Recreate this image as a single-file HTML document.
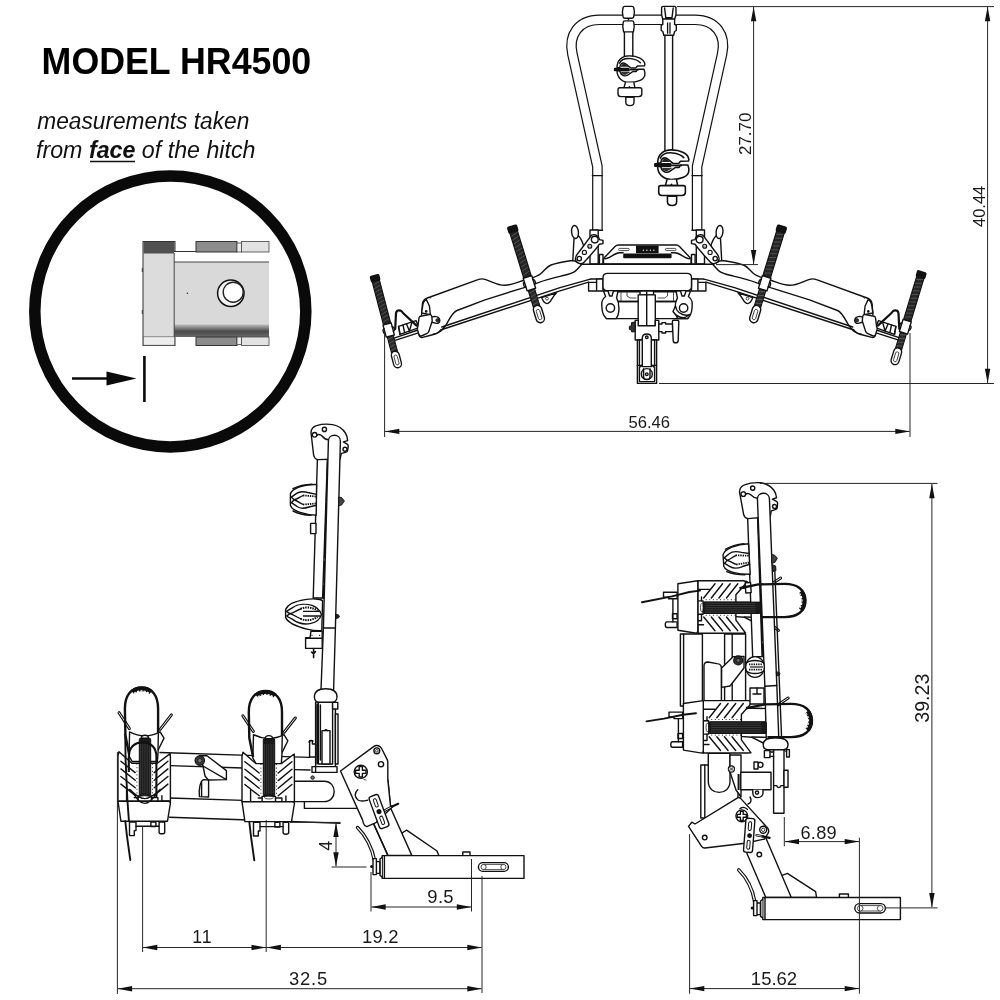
<!DOCTYPE html>
<html><head><meta charset="utf-8"><title>HR4500</title>
<style>
html,body{margin:0;padding:0;background:#fff;}
body{width:1000px;height:1000px;overflow:hidden;font-family:"Liberation Sans",sans-serif;}
svg{display:block;position:absolute;left:0;top:0;}
svg text{font-family:"Liberation Sans",sans-serif;}
svg{will-change:transform;transform:translateZ(0);}
.l{fill:none;stroke:#111;stroke-width:1.4;stroke-linejoin:round;stroke-linecap:round;}
.w{fill:#fff;stroke:#111;stroke-width:1.4;stroke-linejoin:round;stroke-linecap:round;}
.t{fill:none;stroke:#222;stroke-width:0.8;stroke-linejoin:round;stroke-linecap:round;}
.wt{fill:#fff;stroke:#222;stroke-width:0.8;stroke-linejoin:round;}
.k{fill:#111;stroke:#111;stroke-width:1;stroke-linejoin:round;}
.d{fill:none;stroke:#262626;stroke-width:1;}
.a{fill:#111;stroke:none;}
.dt{font-size:18px;fill:#1a1a1a;text-anchor:middle;}
</style></head><body>
<svg width="1000" height="1000" viewBox="0 0 1000 1000">
<rect width="1000" height="1000" fill="#fff"/>
<!-- title + note -->
<text x="41.6" y="74.2" font-size="36.3" font-weight="bold" fill="#000" textLength="269.6" lengthAdjust="spacingAndGlyphs">MODEL HR4500</text>
<g font-style="italic" font-size="23" fill="#111">
<text x="37.3" y="128.6" textLength="212" lengthAdjust="spacingAndGlyphs">measurements taken</text>
<text x="36" y="157.8" textLength="219.5" lengthAdjust="spacingAndGlyphs">from <tspan font-weight="bold">face</tspan> of the hitch</text>
</g>
<line x1="90" y1="161.6" x2="135" y2="161.6" stroke="#111" stroke-width="1.5"/>
<!-- circle callout -->
<circle cx="170.3" cy="311.4" r="135.5" fill="none" stroke="#0a0a0a" stroke-width="11.5"/>
<g id="hitchdetail">
 <!-- left block -->
 <rect x="143" y="241.5" width="32" height="104" fill="#dcdcdc" stroke="#333" stroke-width="1"/>
 <rect x="143.5" y="242" width="31" height="11.5" fill="#505050"/>
 <rect x="143.5" y="336.8" width="31" height="8.4" fill="#ececec" stroke="#555" stroke-width="0.6"/>
 <!-- tube -->
 <rect x="174" y="251.5" width="95" height="11" fill="#fff"/>
 <line x1="174" y1="251.5" x2="269" y2="251.5" stroke="#333" stroke-width="1"/>
 <rect x="174" y="262" width="95" height="75" fill="#d9d9d9"/>
 <linearGradient id="gsh" x1="0" y1="0" x2="0" y2="1"><stop offset="0" stop-color="#bdbdbd"/><stop offset="0.55" stop-color="#4a4a4a"/><stop offset="1" stop-color="#6a6a6a"/></linearGradient>
 <rect x="174" y="324.5" width="95" height="12.5" fill="url(#gsh)"/>
 <line x1="174" y1="262" x2="269" y2="262" stroke="#444" stroke-width="1"/>
 <line x1="174.2" y1="253" x2="174.2" y2="337" stroke="#444" stroke-width="1"/>
 <!-- top tabs -->
 <rect x="196" y="241.5" width="41" height="10.5" fill="#8c8c8c" stroke="#333" stroke-width="1"/>
 <rect x="237" y="243" width="4.5" height="9" fill="#eee" stroke="#444" stroke-width="0.8"/>
 <rect x="241.5" y="241.5" width="27.5" height="10.5" fill="#e2e2e2" stroke="#444" stroke-width="0.8"/>
 <!-- bottom tabs -->
 <rect x="196" y="337" width="41" height="8.5" fill="#8c8c8c" stroke="#333" stroke-width="1"/>
 <rect x="237" y="337" width="4.5" height="7.5" fill="#eee" stroke="#444" stroke-width="0.8"/>
 <rect x="241.5" y="337" width="27.5" height="8.5" fill="#e2e2e2" stroke="#444" stroke-width="0.8"/>
 <!-- pin -->
 <circle cx="230.8" cy="293.3" r="13.2" fill="#f4f4f4" stroke="#111" stroke-width="1.5"/>
 <circle cx="233.2" cy="292.2" r="10" fill="#fff" stroke="#222" stroke-width="1.4"/>
 <circle cx="187.4" cy="293.3" r="0.8" fill="#333"/>
 <line x1="142.3" y1="268" x2="142.3" y2="272" stroke="#333" stroke-width="1"/>
 <line x1="142.3" y1="310" x2="142.3" y2="314" stroke="#333" stroke-width="1"/>
</g>
<line x1="72" y1="378.5" x2="112" y2="378.5" stroke="#0a0a0a" stroke-width="2.4"/>
<path d="M106.5 371.5 L136.5 378.5 L106.5 385.5 Z" fill="#0a0a0a"/>
<line x1="144.4" y1="356" x2="144.4" y2="402" stroke="#0a0a0a" stroke-width="2.6"/>
<!-- strap symbol: origin top-centre, runs along +y, length 100 -->
<defs>
<g id="strap">
 <rect x="-3.8" y="5" width="7.6" height="49" fill="#262626" stroke="#111" stroke-width="1.3"/>
 <path d="M-3.4 10 L3.4 8 M-3.4 14 L3.4 12 M-3.4 18 L3.4 16 M-3.4 22 L3.4 20 M-3.4 26 L3.4 24 M-3.4 30 L3.4 28 M-3.4 34 L3.4 32 M-3.4 38 L3.4 36 M-3.4 42 L3.4 40 M-3.4 46 L3.4 44 M-3.4 50 L3.4 48" stroke="#6e6e6e" stroke-width="0.55" fill="none"/>
 <rect x="-5.2" y="0" width="10.4" height="7.2" rx="1.8" fill="#111"/>
 <rect x="-3.2" y="65" width="6.4" height="20" fill="#2a2a2a" stroke="#111" stroke-width="1.2"/>
 <path d="M-3 69 L3 67.4 M-3 73 L3 71.4 M-3 77 L3 75.4 M-3 81 L3 79.4" stroke="#777" stroke-width="0.55" fill="none"/>
 <rect class="w" x="-4.1" y="82.5" width="8.2" height="17.5" rx="4.1"/>
 <rect class="wt" x="-1.7" y="86.5" width="3.4" height="10.5" rx="1.7"/>
 <path class="w" d="M-4.4 53 H4.4 V66 H-4.4Z"/>
 <path class="l" d="M-4.4 57 C-6.4 57 -6.4 62 -4.4 62 M4.4 57 C6.4 57 6.4 62 4.4 62"/>
</g>

<g id="larm">
 <!-- tray (white filled body) -->
 <path d="M421.6 315 L422.4 304 Q423 299.6 427.4 298 L478 279.7 Q481.6 278.3 485 279.4 C492 281.6 498 285.6 505 285.3 C512 285 518 282 524.6 280 C532 277.8 537 277 541 273.5 C545 270 547 266.6 551 265 C558 262.6 565 261.6 571.4 260.6 L575 261 L579 263 L582 264.4 L592 279.2 L590 282.4 L443 329.8 L437 332 L426 334 Z" fill="#fff" stroke="none"/>
 <path class="l" d="M421.6 315 L422.4 304 Q423 299.6 427.4 298 L478 279.7 Q481.6 278.3 485 279.4 C492 281.6 498 285.6 505 285.3 C512 285 518 282 524.6 280 C532 277.8 537 277 541 273.5 C545 270 547 266.6 551 265 C558 262.6 565 261.6 571.4 260.6 L575 261 L579 263 L582 264.4"/>
 <!-- tray lower edge B -->
 <path class="l" d="M433 334.2 C440 333.6 443 329 446 325 C449 320 452 312.6 457 310.5 L485 299.8 L523.3 287.8 L537.6 282.8 C545 280 553 278 561 276.1 C567 274.6 572 273.6 575 271.4 C578 269 579.6 266.6 581.6 264.6"/>
 <!-- bar lines C/D -->
 <path class="l" d="M441.8 327 L560 287.7 L590.4 279.1 M442 329.5 L560 290.9 L588.6 282.2"/>
 <!-- tab with hole -->
 <path class="w" d="M541.6 297.6 C543 301 544 303.6 547 303.6 C551 303.6 551 298 556.6 292.8 Z"/>
 <circle class="wt" cx="547" cy="298.6" r="1.4"/>
 <!-- bar continuing to strap -->
 <path class="l" d="M394 338.2 L418 330 M395 340.4 L420 332.4"/>
 <!-- hatched slider bits -->
 <path class="w" d="M398.6 326.4 L416 320.6 L419 327.6 L400 334.4 Z"/>
 <path class="l" d="M403 325 L404.6 332.6 M406.4 323.8 L409.4 331 M412 322 L409.4 331 M400 334.4 L398.6 326.4"/>
 <!-- wire triangle -->
 <path d="M395.2 329 L396 313.4 Q396.6 309.4 400.4 310.6 Q402 311.4 403 313 L416.6 325.6" fill="none" stroke="#111" stroke-width="2.2" stroke-linejoin="round" stroke-linecap="round"/>
 <!-- hinge bracket -->
 <path class="w" d="M421.6 313 L423 304 Q423.6 300.6 426.4 299.6 L429.4 306 L430.4 314.8 Z"/>
 <circle cx="426.2" cy="311.4" r="1.3" fill="#111"/>
 <path class="t" d="M430 298.4 L431 297.6"/>
 <!-- lever knob -->
 <path class="w" d="M430 317.6 L434.6 316.4 Q439.6 316.6 439.8 320.4 Q439.6 323.6 436.4 323.4 L431 322Z"/>
 <circle cx="437.6" cy="320.3" r="1.7" fill="#333" stroke="#111" stroke-width="0.8"/>
 <!-- end block -->
 <path class="w" d="M420.4 316.2 L429.4 314.6 Q431.4 314.4 431.8 316.4 L432.2 321 L428.8 331.6 Q428.2 333.2 426.6 333.6 L421.4 336 Q419.6 336.4 419 334.8 L417.4 329.4 Q417.2 328 418 326 L419 318 Q419.2 316.4 420.4 316.2Z"/>
 <path class="l" d="M419 334.8 Q419.6 338 422.6 337.4 L431.6 335 C436 334.4 438.6 332.6 441 329.6"/>
</g>
</defs>
<use href="#larm"/>
<use href="#larm" transform="translate(1294.5 0) scale(-1 1)"/>
<!-- straps -->
<use href="#strap" transform="translate(374.2 274.8) rotate(-14.7) scale(0.96)"/>
<use href="#strap" transform="translate(511.7 225.6) rotate(-17.1) scale(1.014)"/>
<use href="#strap" transform="translate(782.4 225.6) rotate(17.1) scale(1.014)"/>
<use href="#strap" transform="translate(922.2 271.2) rotate(16.9) scale(0.975)"/>
<!-- ======== FRONT VIEW (top) ======== -->
<g id="front">
<!-- hoop: black thick stroke + white inner = tube -->
<path id="hoopc" d="M597.4 231 V166.5 L572.4 54 C568.3 35 578.5 19.8 599.5 19.8 H695 C716 19.8 726.2 35 722.1 54 L697.1 166.5 V231" fill="none" stroke="#111" stroke-width="10.6" stroke-linejoin="round"/>
<path d="M597.4 232 V166.5 L572.4 54 C568.3 35 578.5 19.8 599.5 19.8 H695 C716 19.8 726.2 35 722.1 54 L697.1 166.5 V232" fill="none" stroke="#fff" stroke-width="8.2" stroke-linejoin="round"/>
<path class="l" d="M592.3 175.6 H602.5 M692 175.6 H702.2 M592.3 230.3 H602.5 M692 230.3 H702.2"/>

<!-- left short rod -->
<rect class="w" x="624.4" y="31" width="8.4" height="25.5"/>
<path class="w" d="M623 8.2 Q623 6.4 625 6.4 H631.8 Q633.8 6.4 633.8 8.2 L634.4 12 L633.8 16.5 Q633.8 18.2 632 18.2 H624.8 Q623 18.2 623 16.5 L622.4 12 Z"/>
<path class="w" d="M623.2 22.5 Q623.2 20.9 625 20.9 H632 Q633.8 20.9 633.8 22.5 L634.2 26.5 L633.4 31.9 H623.6 L622.8 26.5 Z"/>
<circle cx="628.5" cy="19.6" r="0.8" fill="#111"/>
<!-- right long rod -->
<rect class="w" x="664.9" y="34" width="7.7" height="118"/>
<path class="w" d="M661.6 8 Q661.6 6.4 663.5 6.4 H674 Q676 6.4 676 8 V15 L674.6 19 V24.5 L676.3 25.5 V30.5 L674.6 31.5 L673.6 35.2 H663.8 L662.8 31.5 L661.2 30.5 V25.5 L662.8 24.5 V19 L661.6 15 Z"/>
<path class="l" d="M664.6 8 L665.8 17.6 H672 L673.2 8 M662.8 19 H674.6"/>
<path d="M667.6 22.5 V33.8 M670 22.5 V33.8" stroke="#111" stroke-width="1.3" fill="none"/>

<!-- clamp symbol -->
<defs><g id="fclamp">
 <!-- lower jaw -->
 <path class="w" d="M-13.4 1.2 C-13.4 8 -8.5 13.1 -1.2 13.1 C7 13.1 14.5 10.5 14.5 5 V3.4 L13.6 0.1 H7 L5.9 2.3 H2.6 L-0.7 4.5 C-2.5 6 -4 6.7 -5.1 6.7 C-7.5 6.7 -9.5 5.6 -10.6 1.75 Z"/>
 <!-- upper jaw -->
 <path class="w" d="M-13.4 -1.5 C-13.4 -9 -8.5 -13.3 -1.2 -13.3 C7 -13.3 14 -10 14.5 -4.8 L14.2 -3.4 L7 -3.2 L5.4 -1.2 H0.4 L-4 -4.8 C-5.5 -6.4 -8.5 -7 -10 -4.3 L-10.6 -1.5 Z"/>
 <path class="l" d="M-11 -6 C-9 -10 -4 -11 0 -10.6 C4 -10.2 8 -8.6 10 -6.4"/>
 <!-- dark cavity bits -->
 <path d="M-9.2 -3.6 C-8 -5.8 -5.6 -5.8 -4.6 -4.6 L-2 -2.4 H-9.4Z" fill="#222"/>
 <path d="M-9.6 2.6 C-9 5 -6.4 6 -4.6 5.6 L-1.6 3.7 L0 2.6Z" fill="#333"/>
 <!-- bolt -->
 <rect x="-16.6" y="-1.5" width="15.8" height="3.5" rx="1.2" fill="#111"/>
 <rect x="-1" y="-0.2" width="9.4" height="1.5" fill="#111"/>
 <!-- neck, puck, tip -->
 <path class="w" d="M-5 13.4 L-6.5 18.6 H4.5 L3.5 13.4"/>
 <circle cx="-1" cy="17.6" r="0.8" fill="#111"/>
 <path class="w" d="M-10.6 18.6 H9.6 Q11.4 18.6 11.4 20.4 V24.6 Q11.4 27.4 8.4 27.4 H-9.6 Q-12.4 27.4 -12.4 24.6 V20.4 Q-12.4 18.6 -10.6 18.6Z"/>
 <path class="w" d="M-4.6 27.6 V33 Q-4.6 36.4 -0.5 36.4 Q3.6 36.4 3.6 33 V27.6Z"/>
 <rect x="-4.6" y="27.2" width="8.2" height="1.5" fill="#111"/>
</g></defs>
</g>
<use href="#fclamp" transform="translate(630.4 69.2)"/>
<use href="#fclamp" transform="translate(672.6 164.8) scale(1.12)"/>
<g id="frontmid">
<!-- left hoop bracket (mirrored for right) -->
<g id="hbrk">
 <!-- tube stub under hoop -->
 <path class="w" d="M590 230 V264 H598.2 V230Z"/>
 <rect class="w" x="599.4" y="254.5" width="3.6" height="9.6"/>
 <!-- knob & stem -->
 <path class="l" d="M574 238.6 L572.8 260.5 M577.6 235 C581 238 583 243 584 247.5"/>
 <ellipse class="w" cx="575" cy="232" rx="3.4" ry="6.6" transform="rotate(-6 575 232)"/>
 <!-- slanted plate -->
 <path class="w" d="M591.6 235.2 C594.5 233.6 599 235.5 599.5 239.6 L603 240.4 V243.6 L599.4 244.2 C597 248 588 258 583.8 262.4 C581 265.4 575.5 262.8 575.4 258.8 C575.3 256 577 254.4 579 252 Z"/>
 <circle class="w" cx="594.8" cy="239.6" r="3.4"/>
 <circle cx="589.8" cy="246.2" r="2" fill="#bbb" stroke="#111" stroke-width="1.1"/>
 <circle cx="584.4" cy="252.4" r="2.1" fill="#eee" stroke="#111" stroke-width="1.1"/>
 <circle class="w" cx="579.3" cy="258.6" r="2.2"/>
</g>
<use href="#hbrk" transform="translate(1294.5 0) scale(-1 1)"/>

<!-- top trapezoid plate -->
<path class="w" d="M603.5 259 L604.5 257.6 L615 246.4 Q616.4 245 618.5 245 H676 Q678 245 679.5 246.4 L690 257.6 L691 259 V264 H603.5Z"/>
<path class="l" d="M605 258.8 C610 258.8 614 253 619.6 252.8 H623.2 M689.5 258.8 C684.5 258.8 680.5 253 674.9 252.8 H671.4"/>
<rect x="618.6" y="248.4" width="10.6" height="2.2" rx="1.1" class="wt"/>
<rect x="665.4" y="248.4" width="10.6" height="2.2" rx="1.1" class="wt"/>
<rect x="636" y="245.6" width="22.6" height="7.6" fill="#111"/>
<g fill="#ddd"><circle cx="643.4" cy="250.3" r="0.75"/><circle cx="646.9" cy="250.3" r="0.75"/><circle cx="650.4" cy="250.3" r="0.75"/><circle cx="653.9" cy="250.3" r="0.75"/></g>
<rect x="623.2" y="253.6" width="48.4" height="4.6" rx="1" fill="#111"/>

<!-- main crossbar center -->
<path d="M581.5 264.3 H713 L705 279 H590 Z" fill="#fff" stroke="none"/>
<path class="l" d="M581.5 264.3 H713 M590.4 279 H603 M691.5 279 H704.1"/>

<!-- side small blocks under bar -->
<path class="w" d="M588.6 282.4 H596.6 V291 H588.6Z M596.6 279 H603 V291 H596.6Z"/>
<path class="w" d="M705.9 282.4 H697.9 V291 H705.9Z M697.9 279 H691.5 V291 H697.9Z"/>

<!-- lower box -->
<path class="w" d="M607.5 273.4 H687 Q691.5 273.4 691.5 277.8 V286.5 Q691.5 290.6 687.5 290.6 H607 Q603 290.6 603 286.5 V277.8 Q603 273.4 607.5 273.4Z"/>
<path class="l" d="M613.5 291.8 H680.5"/>

<!-- horizontal plate + lobes -->
<path class="w" d="M606.5 301.5 H688 V318.6 H606.5Z"/>
<path class="l" d="M618 301.5 H676"/>
<!-- little detail bits between box and plate -->
<path class="t" d="M627 292 V296 L630 298 H636 M667.5 292 V296 L664.5 298 H658 M621 292 V301 M673.5 292 V301"/>
<g id="lobe">
 <path class="w" d="M603.5 291 L605.6 296.5 C601 299.5 601.6 304 602 308.5 C602.4 313 604 316.5 606.5 318.6 H616 C620 314 619.6 303 616.6 297.8 L618 291 H613.5 L612 296 H609.6 L608 291Z"/>
 <circle class="w" cx="610.4" cy="308" r="4.2"/>
</g>
<use href="#lobe" transform="translate(1294 0) scale(-1 1)"/>
<path class="w" d="M675.5 306 L673 311.5 C676 316 681 318 685 317.5 L690 314.5 C686 316.5 679 314 676.8 310Z"/>

<!-- central post -->
<path class="w" d="M640 291 H653.5 V295 H640Z"/>
<path class="w" d="M638.2 294.9 H655.3 V325.8 H638.2Z"/>
<path class="l" d="M646.7 292 V325.8"/>
<!-- lower block -->
<path class="w" d="M635.2 320.4 H638.2 V325.8 H655.3 V320.4 H658.8 V340 H635.2Z"/>
<!-- lower post -->
<path class="w" d="M637.4 340 H656.6 V383.4 H637.4Z"/>
<path class="l" d="M639.4 340 V366 M654.6 340 V366 M637.4 365.4 H642 M652 365.4 H656.6"/>
<path class="w" d="M642.3 338 C642.3 332.6 651.3 332.6 651.3 338 V366.6 H642.3Z"/>
<circle class="w" cx="646.8" cy="337.3" r="1.3"/>
<!-- eye at bottom -->
<path class="l" d="M639.4 381.6 V367.4 L642 365.4 M654.6 381.6 V367.4 L652 365.4 M639.4 381.6 H654.6"/>
<path class="w" d="M641.3 374 C641.3 366.8 652.3 366.8 652.3 374 C652.3 381.2 641.3 381.2 641.3 374Z"/>
<path class="l" d="M643.6 368.6 V377 Q643.6 379.6 646.8 379.6 Q650 379.6 650 377 V368.6"/>
<circle class="w" cx="646.8" cy="374.2" r="1.3"/>
<!-- handle + bolt (right) -->
<path class="w" d="M658.8 324 H662 V322.6 H665.6 V324 H672.6 V331.6 H665.6 V333 H662 V331.6 H658.8Z"/>
<path class="w" d="M673.4 320.2 H677.6 Q678.8 320.2 678.8 321.6 L678.2 340.6 Q678 342.8 675.6 342.8 Q673.4 342.8 673.2 340.6 L672.4 321.6 Q672.4 320.2 673.4 320.2Z"/>
<!-- bolt (left) -->
<path d="M635.2 322 L631.6 322.6 L631.2 326 L629.4 326.4 V329.4 L631.2 329.8 L631.8 332 L635.2 331.6Z" fill="#333" stroke="#111" stroke-width="1"/>
</g>
<!-- side view: bars (drawn first, under cradles & mast) -->
<g id="sidebars">
 <!-- upper bar -->
 <path class="w" d="M157 752.4 L309 757.4 V781 L157 776 Z" style="stroke:none"/>
 <path class="l" d="M160 752.5 L309.6 757.4 M169.6 765.6 L243 768 M294 769.6 L310 770"/>
 <!-- lower bar -->
 <path class="w" d="M169 798 L300 801.6 V823 L169 817.2Z" style="stroke:none"/>
 <path class="l" d="M169.6 798 L243 800.4 M169.6 817.2 L340 823.2"/>
 <!-- tube end U-shape -->
 <path class="w" d="M294 781.2 H324 C337.6 781.2 337.6 801.6 324 801.6 H294Z"/>
 <path class="l" d="M304.4 801.6 V808.4 H358.6"/>
 <!-- mid bracket with screw -->
 <path class="w" d="M199.4 755.6 L207 755.8 L226.4 770.6 V779.6 L208.4 780 L205 776 L203 766Z"/>
 <path class="w" d="M203.6 779.6 C200 781 198.6 790 199.4 796.6 L208.6 797 V780Z"/>
 <path class="l" d="M201.6 782 V796.6 M203 766 L226.4 779.6"/>
 <circle cx="199.8" cy="760.6" r="4.7" fill="#3a3a3a" stroke="#111" stroke-width="1.2"/>
 <circle cx="199.8" cy="760.6" r="2.2" fill="#777" stroke="#111" stroke-width="0.8"/>
</g>
<!-- ======== SIDE VIEW (bottom-left) ======== -->
<defs><g id="mastU">
 <!-- left thin tube -->
 <path class="w" d="M317.4 459 L327.4 459 L322.6 598 L313.2 598 Z"/>
 <!-- rod between tubes -->
 <path d="M327.6 462 L323.4 600" stroke="#111" stroke-width="1.5" fill="none" stroke-dasharray="14 3 22 2"/>
 <!-- head -->
 <path class="w" d="M311 432.5 C311.2 429 313 426.6 316.5 425.6 C321 424.2 327 423.8 332.6 424.6 C338 425.6 342.6 428.6 345.4 433 C347 435.6 347.6 438 347.6 440.6 L343.4 441.8 L347.2 444.2 Q348.4 445 348.2 446.4 L347.6 450.6 Q347.2 452.2 345.6 452.4 L341.4 453.4 L340 459 L317.6 459.6 Q314.2 458.6 313.6 455 Z"/>
 <path class="l" d="M316.6 435.4 C319 433.6 320.4 434.4 322 436 C324 438.4 326 439.6 328.4 439.8"/>
 <circle class="w" cx="314.6" cy="434.8" r="2.3"/>
 <circle class="w" cx="324.4" cy="429.4" r="2.1"/>
 <circle class="w" cx="345" cy="449.2" r="2"/>
 <!-- main right tube -->
 <path class="w" d="M328.4 441 C328.4 433.4 340.4 433.4 340.4 441 L335.4 628 L333.6 690 H321 L323.4 628 Z"/>
 <path class="l" d="M323.4 628 H335.4"/>
 <!-- nuts on right side -->
 <path d="M338.8 497 L341.6 497.6 L344.4 501 L341.6 505 L338.6 505.8Z" fill="#444" stroke="#111" stroke-width="0.9"/>
 <path d="M335.8 614.4 L338.4 614.8 L339.4 616.4 L338.4 618 L335.8 618.4Z" fill="#222" stroke="#111" stroke-width="0.9"/>

 <!-- upper clamp -->
 <g id="sclampU">
  <path class="w" d="M316.6 484.6 C305 484.2 292 488 290.4 494 L290.4 505.4 C292 511 304 514.6 316.2 515.2 Z"/>
  <path class="l" d="M291 497.4 L296.6 493.4 C300 490.8 305 491.6 309 492.8 L316.6 494.4 M291 502.4 L296.6 506.2 C300 508.8 305 508.4 309 507 L316.4 505.2"/>
  <path class="l" d="M292 497.6 L294 499.8 L292 502.2 M294 499.8 C298 499 300 496.6 303 495.6 M294 499.8 C298 500.8 300 503.6 303 504.4"/>
  <path d="M303 495.4 L316.6 496.6 M303 504.6 L316.4 503.4" stroke="#111" stroke-width="1.8" stroke-dasharray="1.4 0.9" fill="none"/>
  <path class="l" d="M293 488.6 C299 485.6 306 484.4 312 484.2 M293 511 C299 514 305 515 311 515.4"/>
 </g>
 <!-- block under upper clamp -->
 <path class="w" d="M310.6 523.4 H316 V533.6 H310.6Z"/>

</g></defs>
<use href="#mastU"/>
<g id="mastLC">
 <!-- lower clamp -->
 <g id="sclampL">
  <path class="w" d="M322.6 600.6 C320 598.8 312 598.4 305 599.6 C296 601 287.6 604.4 285.6 609.4 L285.6 617.4 C288 623 298 627 308 629.4 C313 630.6 318 631 321.8 630.6 Z"/>
  <path class="l" d="M286.4 611.4 L292.6 607.6 C298 604 306 603.6 312 605.4 C316 606.8 320 610.4 321.4 614.6 C320 619 316 622.4 311 623.4 C305 624.6 298 623.6 292.6 619.4 L286.4 616"/>
  <path class="l" d="M287 611.8 L290 613.6 L287.2 615.6 M290 613.6 C294 613 297 610 300.6 609 M290 613.6 C294 614.6 297 617.6 300.6 618.6"/>
  <path d="M300.6 608.8 C305 606.6 312 607 317.6 610.6 M300.6 618.8 C305 621 312 620.6 317.6 617" stroke="#111" stroke-width="2" stroke-dasharray="1.5 0.9" fill="none"/>
  <path d="M303 611.4 H320.6 M303 616 H320.6" stroke="#111" stroke-width="1.3" fill="none"/>
 </g>
 <!-- block + pin under lower clamp -->
 <path class="w" d="M311 631 L310 637.8 H305.6 V648.4 H322.2 V631.4Z"/>
 <path class="l" d="M305.6 638.2 H322.2"/>
 <circle cx="312" cy="635.4" r="0.6" fill="#111"/><circle cx="319.6" cy="635.4" r="0.6" fill="#111"/>
 <path d="M313.6 648.6 V657.6 M311.6 652 L313.6 654 L315.4 651.6" stroke="#111" stroke-width="1.6" fill="none" stroke-linecap="round"/>

</g>
<g id="sidemastbase">
 <!-- mast base: cap + sleeve -->
 <path class="w" d="M315.6 702 H335.4 V766.6 H315.6Z"/>
 <path class="l" d="M318.4 702 V764 H332.6 V702 M320.4 705 V760 M317 704 V764" />
 <path d="M317.4 706 V762" stroke="#111" stroke-width="1.2" stroke-dasharray="3 1.2" fill="none"/>
 <path class="w" d="M322 730.6 H330 V764 H322Z"/>
 <path class="l" d="M324.6 730.6 Q326 728.6 327.4 730.6"/>
 <path class="w" d="M335.4 714 H338 V764 H335.4Z"/>
 <path class="w" d="M332.6 702.4 H337.8 V709 H332.6Z"/>
 <path class="w" d="M314.4 697 C314.4 691 318 688.8 325.6 688.8 C333.2 688.8 337 691 337 697 C337 700.6 334 702.2 331.6 702.2 H319.4 C317 702.2 314.4 700.6 314.4 697Z"/>
 <!-- little fitting left of sleeve -->
 <path class="w" d="M309.6 740.6 H312.4 V744 H315.6 V757 H309.6Z"/>
 <path class="l" d="M309 742 Q311 739.4 313 741"/>
 <path class="w" d="M312 766.6 H337 V772.4 H312Z"/>
 <path class="l" d="M315.6 766.6 V772.4"/>
 <circle cx="312.6" cy="777.6" r="1.7" fill="#777" stroke="#111" stroke-width="1"/>
</g>
<defs>
<!-- cradle body: origin = rod centre x, body top y -->
<g id="crbody">
 <path class="w" d="M-25.9 0.2 L-13 11.6 H12.4 L25.3 2 L25.5 6 V49.7 H-26.9 V4 Z"/>
 <!-- ribs -->
 <path class="l" d="M-24 9.7 L-9.7 21 M-24 17.3 L-9.7 28.6 M-24 24.9 L-9.7 36.2 M-24 32.5 L-9.7 43.8 M23 9.7 L9.3 21 M23 17.3 L9.3 28.6 M23 24.9 L9.3 36.2 M23 32.5 L9.3 43.8"/>
 <path d="M-8 12 V44 M7.6 12 V44" stroke="#111" stroke-width="0.9" stroke-dasharray="1 2.6" fill="none"/>
 <!-- rod -->
 <rect x="-5.6" y="-13.4" width="11.4" height="57.6" rx="1.4" fill="#1a1a1a" stroke="#111" stroke-width="1"/>
 <path d="M-4.4 -8 V42 M-2.2 -8 V42 M0 -8 V42 M2.2 -8 V42 M4.4 -8 V42" stroke="#555" stroke-width="0.5" fill="none"/>
 <path class="w" d="M-3.6 -13.4 Q-3.6 -16.4 0 -16.4 Q3.6 -16.4 3.6 -13.4Z"/>
 <!-- rod base -->
 <path class="w" d="M-6.8 44.4 H6.6 V49.7 H-6.8Z"/>
 <ellipse cx="0" cy="45.6" rx="4.4" ry="1.4" class="wt"/>
 <path class="l" d="M-18.3 38 V49.7 M-10.7 46 H-6.8 M6.6 46 H13 M13 46 V49.7 M17 44 V49.7 H25.5"/>
 <!-- lower block -->
 <path class="w" d="M-26.9 49.7 H23.8 L25.6 51 L22.6 69.6 H-24 Z"/>
 <!-- feet -->
 <path class="w" d="M-15.4 70.4 H-8.9 V79 H-10.6 V84 H-15.4Z M14.2 70.4 H19.8 V80.6 Q19.8 82.2 17 82.2 Q14.2 82.2 14.2 80.6Z M6 70.4 H11 V75 H6Z"/>
 <path class="l" d="M-8.9 74.6 H14.2"/>
</g>
<g id="crlev"><path d="M-19.6 69.6 L-18 84 L-14.6 108.4" stroke="#111" stroke-width="1.9" fill="none" stroke-linecap="round"/></g>
<!-- loop + levers: same origin -->
<g id="crrod">
 <rect x="-5.6" y="-13.4" width="11.4" height="57.6" rx="1.4" fill="#1a1a1a" stroke="#111" stroke-width="1"/>
 <path d="M-4.4 -8 V42 M-2.2 -8 V42 M0 -8 V42 M2.2 -8 V42 M4.4 -8 V42" stroke="#555" stroke-width="0.5" fill="none"/>
</g>
<g id="crsad">
 <!-- levers -->
 <path d="M-26 -36.2 L-15.6 -20.6 M26.4 -34 L15.2 -19.8" stroke="#111" stroke-width="3" stroke-linecap="round" fill="none"/>
 <path d="M-26 -36.2 L-15.6 -20.6 M26.4 -34 L15.2 -19.8" stroke="#fff" stroke-width="0.9" stroke-linecap="round" fill="none"/>
 <!-- saddle -->
 <path class="w" d="M-15.4 -17.4 Q-0.2 -9.6 15.1 -17.4 L19 -11.2 L13.2 0.4 L12.4 11.6 H-13 L-16 6 Z"/>
 <path class="l" d="M13.4 -16 L13 0"/>
</g>
<g id="crlp">
 <path d="M-15.8 5 L-19.6 -14 L-20.1 -40 C-20.1 -53.4 -14 -60.6 -3.5 -60.6 C7 -60.6 13.1 -53.4 13.1 -40 V-16.4" fill="none" stroke="#111" stroke-width="2.4" stroke-linejoin="round"/>
 <path d="M-12.6 -56.2 C-8 -60.8 1.6 -60.8 6 -56.2" fill="none" stroke="#111" stroke-width="5"/>
 <path d="M-11 -55 C-7 -58.4 0.6 -58.4 4.6 -55" fill="none" stroke="#fff" stroke-width="1.1" stroke-dasharray="2.2 1.2"/>
</g>
</defs>
<g id="sidecradles">
 <!-- left cradle -->
 <use href="#crsad" transform="translate(145 749.6) scale(1 1.02)"/>
 <use href="#crlp" transform="translate(145 749.6) scale(1 1.02)"/>
 <use href="#crbody" transform="translate(144.9 751.6)"/>
 <use href="#crlev" transform="translate(144.9 751.6)"/>
 <!-- left cradle: second loop in front + long strap -->
 <path d="M128.8 772 V757 C128.8 747.4 134.6 742.4 142.6 742.4 C150.6 742.4 156.4 747.4 156.4 757 V797" fill="none" stroke="#111" stroke-width="2.1"/>
 <path d="M125.2 734 L125.6 760 L127.4 800 L129 822" fill="none" stroke="#111" stroke-width="1.9"/>
 <path class="l" d="M129.6 789.4 C134 793 138 798.6 144.8 798.6 C151.6 798.6 156 793 160.4 789.4 M133.4 793.4 C137 799 140 803.4 144.8 803.4 C149.6 803.4 153 799 156.6 793.4"/>
 <!-- right cradle -->
 <use href="#crsad" transform="translate(268.9 752)"/>
 <use href="#crlp" transform="translate(268.9 752)"/>
 <use href="#crbody" transform="translate(268.9 752)"/>
 <use href="#crlev" transform="translate(268.9 752)"/>
</g>
<g id="sidehitch">
 <!-- gusset -->
 <path class="w" d="M402 833 L406.6 830.2 L437 851 L438.8 855.6 H402Z"/>
 <!-- post -->
 <path class="w" d="M362 798 L387.8 855.4 H411.8 L390.6 808 L388 780Z"/>
 <!-- pivot plate -->
 <path class="w" d="M340.5 771 L373.6 746.6 Q376.8 744.4 379.6 746.4 Q381.4 747.6 382.4 750 L387.2 759.6 Q387.8 761 387.8 762.6 V780 L390.8 808.6 L376 822.6 L366.8 826.6 Q364.2 826 363.6 823.6 L362.4 819.6Z"/>
 <path class="l" d="M374.2 825 L387.8 855"/>
 <!-- C hook -->
 <path class="l" d="M357.8 789.8 C354 793 354.6 797 358 800 C361 802 365 800.8 367.6 800.2"/>
 <!-- cross bolt -->
 <circle class="w" cx="360.8" cy="771.8" r="6.6"/>
 <path class="l" d="M359.2 766.6 H362.4 V770.2 H366 V773.4 H362.4 V777 H359.2 V773.4 H355.6 V770.2 H359.2Z"/>
 <path class="t" d="M364 779.6 L366 780"/>
 <circle class="w" cx="381" cy="764.2" r="2.6"/>
 <circle class="w" cx="376.8" cy="750.8" r="2.9"/>
 <circle cx="376.8" cy="750.8" r="1.3" fill="none" stroke="#111" stroke-width="0.8"/>
 <!-- pin with black tip -->
 <path d="M384 811 L392 806.6" stroke="#111" stroke-width="2.6" stroke-linecap="round" fill="none"/>
 <path d="M384 811 L392 806.6" stroke="#fff" stroke-width="0.9" stroke-linecap="round" fill="none"/>
 <path d="M391.6 806.8 L398.2 803.8" stroke="#111" stroke-width="2.2" stroke-linecap="round" fill="none"/>
 <!-- slotted bracket -->
 <g transform="translate(379 811.6) rotate(-20.2)">
  <rect class="w" x="-5" y="-17" width="10" height="34" rx="2.4"/>
  <rect class="wt" x="-1.5" y="-13.6" width="3" height="8.6" rx="1.4" style="stroke:#111;stroke-width:1"/>
  <rect class="wt" x="-1.5" y="5" width="3" height="8.6" rx="1.4" style="stroke:#111;stroke-width:1"/>
  <circle cx="0" cy="0" r="2.5" fill="#111"/>
 </g>
 <!-- curved lever -->
 <path d="M357.6 827.6 C366 836 372 848 374.6 861" stroke="#111" stroke-width="3.6" stroke-linecap="round" fill="none"/>
 <path d="M357.6 827.6 C366 836 372 848 374.6 861" stroke="#fff" stroke-width="1.3" stroke-linecap="round" fill="none"/>
 <!-- hitch bar -->
 <path class="w" d="M462.8 855.6 V852 H470 V855.6"/>
 <path class="w" d="M382.2 855.6 H524 V878.4 H382.2Z"/>
 <path class="l" d="M384.4 855.6 V878.4"/>
 <path class="w" d="M381.8 857.6 L380 859 V875.4 L381.8 876.8"/>
 <!-- end bolt -->
 <path class="w" d="M376.4 861.6 H379.8 V873.4 H376.4Z M373 858.6 H376.4 V874.6 H373Z"/>
 <circle cx="371.6" cy="866.4" r="1.5" fill="#111"/>
 <!-- pin slot -->
 <rect class="w" x="478.4" y="862.6" width="30" height="8.8" rx="4.4"/>
 <path class="t" d="M483 864.4 H504 M483 869.6 H504"/>
 <circle class="wt" cx="483.6" cy="867" r="2.6"/><circle class="wt" cx="503.4" cy="867" r="2.6"/>
</g>
<!-- ======== FOLDED VIEW (bottom-right) ======== -->
<g id="foldback">
 <!-- vertical rack tubes (behind) -->
 <path class="w" d="M680.4 634 H702.4 V706 H680.4Z"/>
 <path class="l" d="M683.6 634 V706"/>
 <path class="w" d="M724.6 634 H745.6 V706 H724.6Z"/>
 <path class="l" d="M732.2 634 V706"/>
 <!-- rounded-top tube piece + screw bracket -->
 <path class="w" d="M704 703 V666 Q704 662 708 662 L717 663.6 Q721.4 664 721.4 668 V703Z"/>
 <path class="w" d="M721.6 687.4 V668 L733.4 656.6 L744 656.4 V668 L730 686 Z"/>
 <circle cx="738.2" cy="660.4" r="4.5" fill="#2e2e2e" stroke="#111" stroke-width="1.2"/>
 <circle cx="738.2" cy="660.4" r="2" fill="#666" stroke="#111" stroke-width="0.8"/>
 <!-- lower: rectangular plate behind + U tube -->
 <path class="w" d="M700.8 765 H738 V818 H700.8Z"/>
 <path class="l" d="M704.8 765 V818"/>
 <path class="w" d="M708.3 753.4 H730 V781.6 C730 796 708.3 796 708.3 781.6Z"/>
 <path class="w" d="M730 755 H741 V797 L736 790 L730 772Z"/>
 <circle cx="731.4" cy="769" r="3.1" fill="#ddd" stroke="#111" stroke-width="1.1"/>
 <path class="t" d="M729.6 767.4 L733.2 770.6 M729.6 770.6 L733.2 767.4"/>
</g>
<!-- cradle bodies rotated -->
<use href="#crsad" transform="translate(744.5 604) rotate(90)"/>
<use href="#crbody" transform="translate(747.5 607.7) rotate(90)"/>
<use href="#crsad" transform="translate(752 724) rotate(90)"/>
<use href="#crbody" transform="translate(753 727.5) rotate(90)"/>
<path d="M700 590.6 L689.4 592 L672 596.4 L642 602.2 M696 713.2 L683 714.8 L664 718.6 L646.5 721.4" stroke="#111" stroke-width="1.9" fill="none" stroke-linecap="round"/>
<g id="foldmast">
 <!-- thin rod right of main tube -->
 <path class="l" d="M774.6 566 L781.6 738"/>
 <path d="M772 564.6 L775.6 566 L776 570.6 L772.6 571.6Z" fill="#333" stroke="#111" stroke-width="0.9"/>
 <use href="#mastU" transform="translate(763.3 497) rotate(-3.8) translate(-334.4 -439)"/>
 <!-- small lower clamp seen end-on -->
 <ellipse class="w" cx="755" cy="667" rx="9.4" ry="10.4"/>
 <path class="l" d="M746.4 663 C750 659.6 760 659.6 763.6 663 M746.4 671 C750 674.4 760 674.4 763.6 671"/>
 <path d="M749 664.4 H762 M749 669.6 H762" stroke="#111" stroke-width="1.8" stroke-dasharray="1.4 0.9" fill="none"/>
 <path d="M750 667 H763" stroke="#111" stroke-width="1.2" fill="none"/>
 <!-- small pieces between -->
 <path class="w" d="M750 688 H764 V704 H750Z"/>
 <path class="l" d="M753 694 H761 M757 688 V694"/>
 <!-- rect block -->
 <path class="w" d="M740.8 772.3 H771 V789.8 H740.8Z"/>
 <path d="M738.6 774 V790" stroke="#111" stroke-width="2" fill="none"/>
 <path class="w" d="M752.8 789.8 V793 Q753 797.6 757.6 797.6 Q762.6 797.4 763 793 V789.8"/>
 <circle class="w" cx="757" cy="792.6" r="1.6"/>
 <path class="l" d="M750 797 C752 800 751 803 748 804"/>
 <circle class="w" cx="760.4" cy="764.8" r="2.6"/>
 <path class="w" d="M754 762 H758 V769 H754Z"/>
 <!-- lower mast tube -->
 <path class="w" d="M773.6 748 H784 V813.2 H773.6Z"/>
 <path class="l" d="M773.6 785.6 H776.6 Q777.6 787.6 778.8 787.6 Q780 787.6 781 785.6 H784"/>
 <path class="w" d="M784 770.3 H788 V787.2 H784Z"/>
 <!-- side lugs at cap -->
 <path class="w" d="M764.4 750.6 H770 V757.6 H764.4Z M786.6 749.6 H789.4 V757 H786.6Z"/>
 <path class="l" d="M770 752 H773.6 M770 756.4 H773.6"/>
 <!-- cap -->
 <path class="w" d="M763.2 744.6 C763.2 739.6 768 737.8 775.6 737.8 C783.2 737.8 788 739.6 788 744.6 C788 747.6 786 749.6 783.6 749.8 H767.6 C765.2 749.6 763.2 747.6 763.2 744.6Z"/>
</g>
<!-- rods + loops on top -->
<use href="#crrod" transform="translate(747.5 607.7) rotate(90)"/>
<use href="#crrod" transform="translate(753 727.5) rotate(90)"/>
<use href="#crlp" transform="translate(744.5 604) rotate(90)"/>
<use href="#crlp" transform="translate(751 724) rotate(90)"/>
<g id="foldhitch">
 <!-- gusset -->
 <path class="w" d="M781.4 875.6 L787.4 873.4 L815.6 891.6 L816.6 897.5 H781.4Z"/>
 <!-- post -->
 <path class="w" d="M745.5 850 L765.8 897.5 H791.3 L765.9 838 L752 836Z"/>
 <circle class="w" cx="759.3" cy="854.5" r="2.3"/>
 <!-- plate -->
 <path class="w" d="M688.5 826.4 L691.8 822.2 L695 824 L737.6 797.8 Q739.2 797 740.6 798.4 L767.6 828 Q769.6 830.6 768 833.4 L764.6 839 L745 843.2 L705 848 Q702.8 848.2 701.6 846.4 Z"/>
 <circle class="w" cx="704.7" cy="837.6" r="2.3"/>
 <!-- cross bolt -->
 <circle class="w" cx="741.8" cy="815.8" r="5.9"/>
 <path class="l" d="M740.4 811.2 H743.2 V814.4 H746.4 V817.2 H743.2 V820.4 H740.4 V817.2 H737.2 V814.4 H740.4Z"/>
 <path class="l" d="M740 808.6 C743 806.6 746 807.6 747.4 809.4"/>
 <!-- right bolt -->
 <circle class="w" cx="763.2" cy="829.8" r="3.5"/>
 <circle cx="763.2" cy="829.8" r="1.7" fill="none" stroke="#111" stroke-width="0.8"/>
 <!-- pin -->
 <path d="M756.6 835.2 L763 836.4" stroke="#111" stroke-width="2.4" stroke-linecap="round" fill="none"/>
 <path d="M756.6 835.2 L763 836.4" stroke="#fff" stroke-width="0.8" stroke-linecap="round" fill="none"/>
 <path d="M762.6 836.4 L769.6 837.8" stroke="#111" stroke-width="2.2" stroke-linecap="round" fill="none"/>
 <!-- slotted bracket -->
 <g transform="translate(749.2 835.4) rotate(4.5)">
  <rect class="w" x="-4.5" y="-17" width="9" height="34" rx="2.2"/>
  <rect x="-1.5" y="-13.8" width="3" height="8.8" rx="1.4" fill="#fff" stroke="#111" stroke-width="1"/>
  <rect x="-1.5" y="5" width="3" height="8.8" rx="1.4" fill="#fff" stroke="#111" stroke-width="1"/>
  <circle cx="0.4" cy="0.2" r="2.4" fill="#111"/>
 </g>
 <!-- curved lever -->
 <path d="M738.8 870 C746 877 752.6 889 754.8 902" stroke="#111" stroke-width="3.6" stroke-linecap="round" fill="none"/>
 <path d="M738.8 870 C746 877 752.6 889 754.8 902" stroke="#fff" stroke-width="1.3" stroke-linecap="round" fill="none"/>
 <!-- hitch bar -->
 <path class="w" d="M839.4 897.5 V894 H848.4 V897.5"/>
 <path class="w" d="M762.8 897.5 H900.4 V919.6 H762.8Z"/>
 <path class="l" d="M765 897.5 V919.6"/>
 <path class="w" d="M762.4 899.6 L760.6 901 V916.4 L762.4 917.6"/>
 <path class="w" d="M757 903 H760.4 V914.6 H757Z M753.6 900.6 H757 V915.6 H753.6Z"/>
 <circle cx="752.2" cy="908" r="1.5" fill="#111"/>
 <rect class="w" x="854.8" y="903.6" width="30.6" height="9.4" rx="4.7"/>
 <path class="t" d="M859.6 905.6 H880.6 M859.6 911 H880.6"/>
 <circle class="wt" cx="860.2" cy="908.3" r="2.8"/><circle class="wt" cx="880.2" cy="908.3" r="2.8"/>
</g>
<!-- ======== DIMENSIONS ======== -->
<defs>
 <path id="ah" d="M0 0 L-14.5 -2.7 L-14.5 2.7 Z" class="a"/>
</defs>
<g class="d">
 <!-- top view: 27.70 / 40.44 / 56.46 -->
 <path d="M677 6.6 H994"/>
 <path d="M716 264.6 H758"/>
 <path d="M659 383.5 H994"/>
 <path d="M753.6 7 V264"/>
 <path d="M987.6 7 V383"/>
 <path d="M384.6 333 V437 M910 333 V437 M385 431.4 H909.6"/>
 <!-- bottom-left -->
 <path d="M117.4 752 V994 M142.6 826 V952 M266.2 820 V952 M482 876 V993 M371 872 V911.5 M471.5 859 V911.5"/>
 <path d="M118 988.7 H481.5 M143 947.5 H481.5 M371.5 907 H471"/>
 <path d="M290 822.4 H340.5 M331.5 867 H366.5 M336 824 V866"/>
 <!-- bottom-right -->
 <path d="M760 483.4 H937.5 M885.4 907.9 H937.5 M931.9 484 V907"/>
 <path d="M689.6 834 V993.7 M859.4 837.7 V993.7 M784.3 817 V846.3 M785 841.6 H859 M690 988.6 H859"/>
</g>
<!-- arrowheads -->
<use href="#ah" transform="translate(753.6 6.8) rotate(-90)"/>
<use href="#ah" transform="translate(753.6 264.4) rotate(90)"/>
<use href="#ah" transform="translate(987.6 6.8) rotate(-90)"/>
<use href="#ah" transform="translate(987.6 383.3) rotate(90)"/>
<use href="#ah" transform="translate(384.8 431.4) rotate(180)"/>
<use href="#ah" transform="translate(909.8 431.4)"/>
<use href="#ah" transform="translate(117.6 988.7) rotate(180)"/>
<use href="#ah" transform="translate(481.8 988.7)"/>
<use href="#ah" transform="translate(142.8 947.5) rotate(180)"/>
<use href="#ah" transform="translate(266 947.5)"/>
<use href="#ah" transform="translate(266.4 947.5) rotate(180)"/>
<use href="#ah" transform="translate(481.8 947.5)"/>
<use href="#ah" transform="translate(371.2 907) rotate(180)"/>
<use href="#ah" transform="translate(471.3 907)"/>
<use href="#ah" transform="translate(336 822.6) rotate(-90)"/>
<use href="#ah" transform="translate(336 866.8) rotate(90)"/>
<use href="#ah" transform="translate(931.9 483.7) rotate(-90)"/>
<use href="#ah" transform="translate(931.9 907.6) rotate(90)"/>
<use href="#ah" transform="translate(784.5 841.6) rotate(180)"/>
<use href="#ah" transform="translate(859.2 841.6)"/>
<use href="#ah" transform="translate(689.8 988.6) rotate(180)"/>
<use href="#ah" transform="translate(859.2 988.6)"/>
<!-- dim texts -->
<g class="dt" fill="#1a1a1a">
 <text x="649.3" y="428.4" font-size="16.6">56.46</text>
 <text transform="translate(750.8 133.8) rotate(-90)" font-size="17">27.70</text>
 <text transform="translate(984.7 206.4) rotate(-90)" font-size="16.5">40.44</text>
 <text x="202.5" y="943.1" font-size="17.8" letter-spacing="1">11</text>
 <text x="380.4" y="943.3" font-size="18.4" letter-spacing="0.3">19.2</text>
 <text x="308.5" y="984.6" font-size="18.4" letter-spacing="0.8">32.5</text>
 <text x="440.6" y="903" font-size="18.4" letter-spacing="0.3">9.5</text>
 <text transform="translate(332 845.8) rotate(-90)" font-size="18.2">4</text>
 <text x="818.7" y="838.6" font-size="18.2" letter-spacing="0.3">6.89</text>
 <text x="774" y="985.2" font-size="18.5">15.62</text>
 <text transform="translate(929 698.2) rotate(-90)" font-size="19.6">39.23</text>
</g>
</svg>
</body></html>
